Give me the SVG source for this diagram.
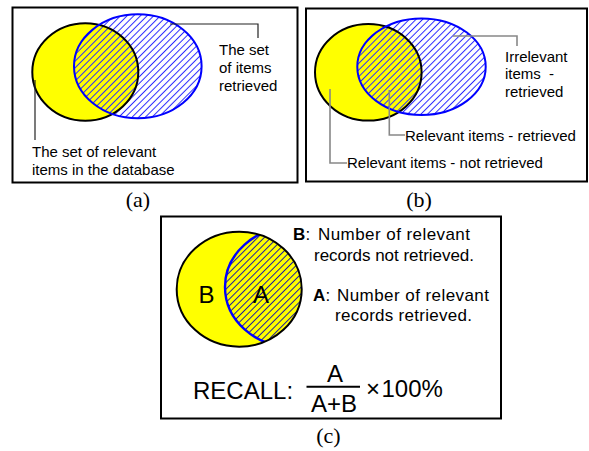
<svg xmlns="http://www.w3.org/2000/svg" width="589" height="451" viewBox="0 0 589 451">
<style>
.box{fill:#fff;stroke:#000;stroke-width:2}
.yel{fill:#ffff00;stroke:none}
.yedge{fill:none;stroke:#000;stroke-width:2}
.bedge{fill:none;stroke:#0000ff;stroke-width:2}
.t{font-family:"Liberation Sans",Arial,sans-serif;font-size:15px;fill:#000}
.t17{font-family:"Liberation Sans",Arial,sans-serif;font-size:17px;fill:#000}
.big{font-family:"Liberation Sans",Arial,sans-serif;font-size:24px;fill:#000}
.cap{font-family:"Liberation Serif","Times New Roman",serif;font-size:22px;fill:#000}
.lead{fill:none;stroke:#222;stroke-width:1.2}
.leadg{fill:none;stroke:#888;stroke-width:1.6}
</style>
<defs>
<pattern id="hatch" width="4.7" height="4.7" patternUnits="userSpaceOnUse" patternTransform="rotate(45)">
<line x1="2.35" y1="0" x2="2.35" y2="4.7" stroke="#2a2aff" stroke-width="1"/>
</pattern>
<pattern id="hatchC" width="4.7" height="4.7" patternUnits="userSpaceOnUse" patternTransform="rotate(45)">
<line x1="2.35" y1="0" x2="2.35" y2="4.7" stroke="#1a1aa0" stroke-width="1"/>
</pattern>
<clipPath id="clipC"><ellipse cx="239.2" cy="289.2" rx="62.5" ry="57.5"/></clipPath>
</defs>

<g id="panel-a">
<rect class="box" x="12.5" y="7.5" width="285" height="175"/>
<g id="a-relevant">
<ellipse class="yel" cx="85.3" cy="72" rx="53" ry="48.7"/>
</g>
<g id="a-retrieved">
<ellipse cx="137.8" cy="66.3" rx="63.8" ry="52" fill="url(#hatch)"/>
</g>
<ellipse class="yedge" cx="85.3" cy="72" rx="53" ry="48.7"/>
<ellipse class="bedge" cx="137.8" cy="66.3" rx="63.8" ry="52"/>
<g id="a-label-retrieved">
<text class="t" x="219" y="55">The set</text>
<text class="t" x="219" y="73">of items</text>
<text class="t" x="219" y="91">retrieved</text>
</g>
<g id="a-label-relevant">
<text class="t" x="32" y="157">The set of relevant</text>
<text class="t" x="32" y="174.5">items in the database</text>
</g>
</g>

<g id="panel-b">
<rect class="box" x="306" y="8.5" width="281" height="173"/>
<g id="b-relevant">
<ellipse class="yel" cx="368.3" cy="72.3" rx="53.3" ry="48.3"/>
</g>
<g id="b-retrieved">
<ellipse cx="421.5" cy="66.7" rx="64.2" ry="48.3" fill="url(#hatch)"/>
</g>
<ellipse class="yedge" cx="368.3" cy="72.3" rx="53.3" ry="48.3"/>
<ellipse class="bedge" cx="421.5" cy="66.7" rx="64.2" ry="48.3"/>
<g id="b-label-irrelevant">
<text class="t" x="505" y="62">Irrelevant</text>
<text class="t" y="79"><tspan x="505">items</tspan><tspan x="549">-</tspan></text>
<text class="t" x="505" y="97">retrieved</text>
</g>
<g id="b-label-rel-ret">
<text class="t" x="405" y="141">Relevant items - retrieved</text>
</g>
<g id="b-label-rel-notret">
<text class="t" x="347" y="168">Relevant items - not retrieved</text>
</g>
</g>

<g id="panel-c">
<rect class="box" x="161" y="216.5" width="340" height="202"/>
<g id="c-venn">
<ellipse class="yel" cx="239.2" cy="289.2" rx="62.5" ry="57.5"/>
<g clip-path="url(#clipC)">
<ellipse cx="292" cy="287" rx="67" ry="60" fill="url(#hatchC)" stroke="#0000ff" stroke-width="2.4"/>
</g>
<ellipse class="yedge" cx="239.2" cy="289.2" rx="62.5" ry="57.5"/>
<text class="big" x="198.5" y="302.5" font-size="23">B</text>
<text class="big" x="253" y="302.5" font-size="23">A</text>
</g>
<g id="c-legend-b">
<text class="t17" x="293" y="240"><tspan font-weight="bold">B</tspan><tspan x="305.5">:</tspan><tspan x="318" textLength="152">Number of relevant</tspan></text>
<text class="t17" x="314" y="260.5" textLength="160">records not retrieved.</text>
</g>
<g id="c-legend-a">
<text class="t17" x="313" y="301"><tspan font-weight="bold">A</tspan><tspan x="325.5">:</tspan><tspan x="337" textLength="152">Number of relevant</tspan></text>
<text class="t17" x="335" y="321" textLength="137">records retrieved.</text>
</g>
<g id="c-formula">
<text class="big" x="193" y="398.5" font-size="25">RECALL:</text>
<text class="big" x="335" y="381.5" font-size="23" text-anchor="middle">A</text>
<line x1="306.5" y1="386.7" x2="360" y2="386.7" stroke="#000" stroke-width="2"/>
<text class="big" x="334" y="411.5" font-size="23" text-anchor="middle">A+B</text>
<text class="big" x="366" y="396.5" font-size="23">×</text>
<text class="big" x="381.5" y="396.5" font-size="24">100%</text>
</g>
</g>

<g id="connectors">
<polyline class="lead" points="170,24 258,24 258,38"/>
<polyline class="lead" points="35,80 35,140"/>
<polyline class="leadg" points="453,36 517,36 517,46"/>
<polyline class="leadg" points="389.3,90 389.3,135 405,135"/>
<polyline class="leadg" points="330,89 330,163 347,163"/>
</g>

<g id="captions">
<text class="cap" x="138" y="207" text-anchor="middle">(a)</text>
<text class="cap" x="419" y="207" text-anchor="middle">(b)</text>
<text class="cap" x="328.5" y="443" text-anchor="middle">(c)</text>
</g>
</svg>
